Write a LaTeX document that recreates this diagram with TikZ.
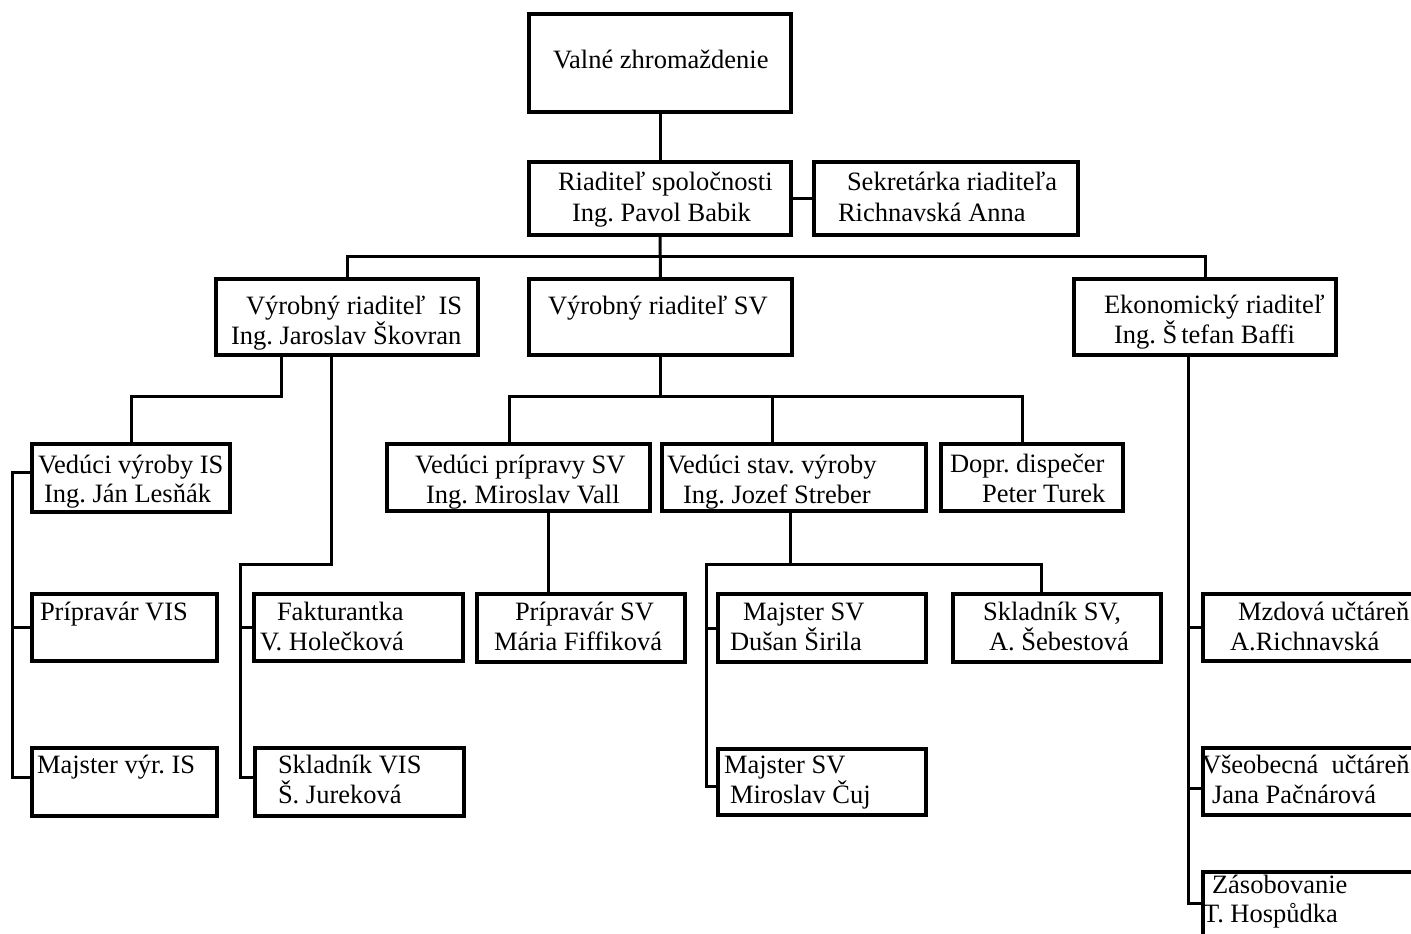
\documentclass[tikz,border=0pt]{standalone}
\usepackage{fontspec}
\setmainfont{Liberation Serif}
\frenchspacing
\tikzset{
  box/.style={draw, line width=1.7pt, rectangle, anchor=north west, inner sep=0pt, outer sep=0pt},
  txt/.style={anchor=base west, inner sep=0pt, outer sep=0pt, font=\fontsize{13.25}{15.5}\selectfont\frenchspacing},
  conn/.style={line width=1.5pt}
}
\newcommand\orgbox[5]{\node[box, minimum width={(#4-#2)*0.5pt}, minimum height={(#5-#3)*0.5pt}] (#1) at (#2,#3) {};}
\newcommand\orgtext[4]{\node[txt] (#1) at (#2,#3) {#4};}
\begin{document}
\begin{tikzpicture}[x=0.5pt,y=-0.5pt]
\useasboundingbox (0,0) rectangle (1411,933);
\clip (0,0) rectangle (1411,933);
% boxes
\orgbox{vz}{529}{14}{791}{112}
\orgbox{rd}{529}{162}{791}{235}
\orgbox{sek}{814}{162}{1078}{235}
\orgbox{vis}{216}{279}{478}{355}
\orgbox{vsv}{529}{279}{792}{355}
\orgbox{eko}{1074}{279}{1336}{355}
\orgbox{vvis}{32}{444}{230}{512}
\orgbox{vpr}{387}{444}{650}{511}
\orgbox{vst}{662}{444}{926}{511}
\orgbox{dop}{941}{444}{1123}{511}
\orgbox{prv}{32}{594}{217}{661}
\orgbox{fak}{254}{594}{463}{661}
\orgbox{ppsv}{477}{594}{685}{662}
\orgbox{msva}{718}{594}{926}{662}
\orgbox{sksv}{953}{594}{1161}{662}
\orgbox{mzd}{1203}{594}{1440}{661}
\orgbox{mvis}{32}{748}{217}{816}
\orgbox{skl}{255}{748}{464}{816}
\orgbox{msvb}{718}{749}{926}{815}
\orgbox{vse}{1203}{748}{1440}{815}
\orgbox{zas}{1203}{872}{1440}{940}
% texts
\orgtext{t1}{553}{68}{Valné zhromaždenie}
\orgtext{t2a}{558}{190}{Riaditeľ spoločnosti}
\orgtext{t2b}{572}{221}{Ing. Pavol Babik}
\orgtext{t3a}{847}{190}{Sekretárka riaditeľa}
\orgtext{t3b}{838}{221}{Richnavská Anna}
\orgtext{t4a}{246}{314}{Výrobný riaditeľ\ \ IS}
\orgtext{t4b}{231}{344}{Ing. Jaroslav Škovran}
\orgtext{t5}{548}{314}{Výrobný riaditeľ SV}
\orgtext{t6a}{1104}{313}{Ekonomický riaditeľ}
\orgtext{t6b}{1114}{343}{Ing. Š\kern2pt tefan Baffi}
\orgtext{t7a}{38}{473}{Vedúci výroby IS}
\orgtext{t7b}{44}{502}{Ing. Ján Lesňák}
\orgtext{t8a}{415}{473}{Vedúci prípravy SV}
\orgtext{t8b}{426}{503}{Ing. Miroslav Vall}
\orgtext{t9a}{667}{473}{Vedúci stav. výroby}
\orgtext{t9b}{683}{503}{Ing. Jozef Streber}
\orgtext{t10a}{950}{472}{Dopr. dispečer}
\orgtext{t10b}{982}{502}{Peter Turek}
\orgtext{t11}{40}{620}{Prípravár VIS}
\orgtext{t12a}{277}{620}{Fakturantka}
\orgtext{t12b}{260}{650}{V. Holečková}
\orgtext{t13a}{515}{620}{Prípravár SV}
\orgtext{t13b}{494}{650}{Mária Fiffiková}
\orgtext{t14a}{743}{620}{Majster SV}
\orgtext{t14b}{730}{650}{Dušan Širila}
\orgtext{t15a}{983}{620}{Skladník SV,}
\orgtext{t15b}{989}{650}{A. Šebestová}
\orgtext{t16a}{1238}{620}{Mzdová učtáreň}
\orgtext{t16b}{1230}{650}{A.Richnavská}
\orgtext{t17}{37}{773}{Majster výr. IS}
\orgtext{t18a}{278}{773}{Skladník VIS}
\orgtext{t18b}{278}{803}{Š. Jureková}
\orgtext{t19a}{724}{773}{Majster SV}
\orgtext{t19b}{730}{803}{Miroslav Čuj}
\orgtext{t20a}{1202}{773}{Všeobecná\ \ učtáreň}
\orgtext{t20b}{1212}{803}{Jana Pačnárová}
\orgtext{t21a}{1212}{893}{Zásobovanie}
\orgtext{t21b}{1203}{922}{T. Hospůdka}
% junction coordinates
\coordinate (busA) at (0,256);
\coordinate (busB) at (0,396);
\coordinate (k1) at (281,396);
\coordinate (k2) at (331,564);
\coordinate (k3) at (240,564);
\coordinate (lx) at (12,0);
\coordinate (d1) at (509,396);
\coordinate (d2) at (772,396);
\coordinate (d3) at (1022,396);
\coordinate (d4) at (548,0);
\coordinate (s1) at (790,564);
\coordinate (s2) at (706,564);
\coordinate (s3) at (1041,564);
\coordinate (ex) at (1188,0);
% connectors
\draw[conn] (vz.south) -- (rd.north);
\draw[conn] (rd.east) -- (sek.west);
\draw[conn] (rd.south) -- (vsv.north);
\draw[conn] (vis.north) -- (vis.north |- busA) -| (eko.north);
\draw[conn] (k1 |- vis.south) -- (k1) -| (vvis.north);
\draw[conn] (k2 |- vis.south) -- (k2) -- (k3) |- ([yshift=2.5pt]skl.west);
\draw[conn] (fak.west) -- (fak.west -| k3);
\draw[conn] ([yshift=3pt]vvis.west) -- ([yshift=3pt]vvis.west -| lx) |- ([yshift=2.5pt]mvis.west);
\draw[conn] (prv.west) -- (prv.west -| lx);
\draw[conn] (vsv.south) -- (vsv.south |- busB);
\draw[conn] (d1 |- vpr.north) -- (d1) -- (d3) -- (d3 |- dop.north);
\draw[conn] (d2) -- (d2 |- vst.north);
\draw[conn] (d4 |- vpr.south) -- (d4 |- ppsv.north);
\draw[conn] (s1 |- vst.south) -- (s1);
\draw[conn] (s3 |- sksv.north) -- (s3) -- (s2) |- ([yshift=-2pt]msvb.west);
\draw[conn] (msva.west) -- (msva.west -| s2);
\draw[conn] (ex |- eko.south) |- ([yshift=1.5pt]zas.west);
\draw[conn] (mzd.west) -- (mzd.west -| ex);
\draw[conn] ([yshift=-3.25pt]vse.west) -- ([yshift=-3.25pt]vse.west -| ex);
\end{tikzpicture}
\end{document}
